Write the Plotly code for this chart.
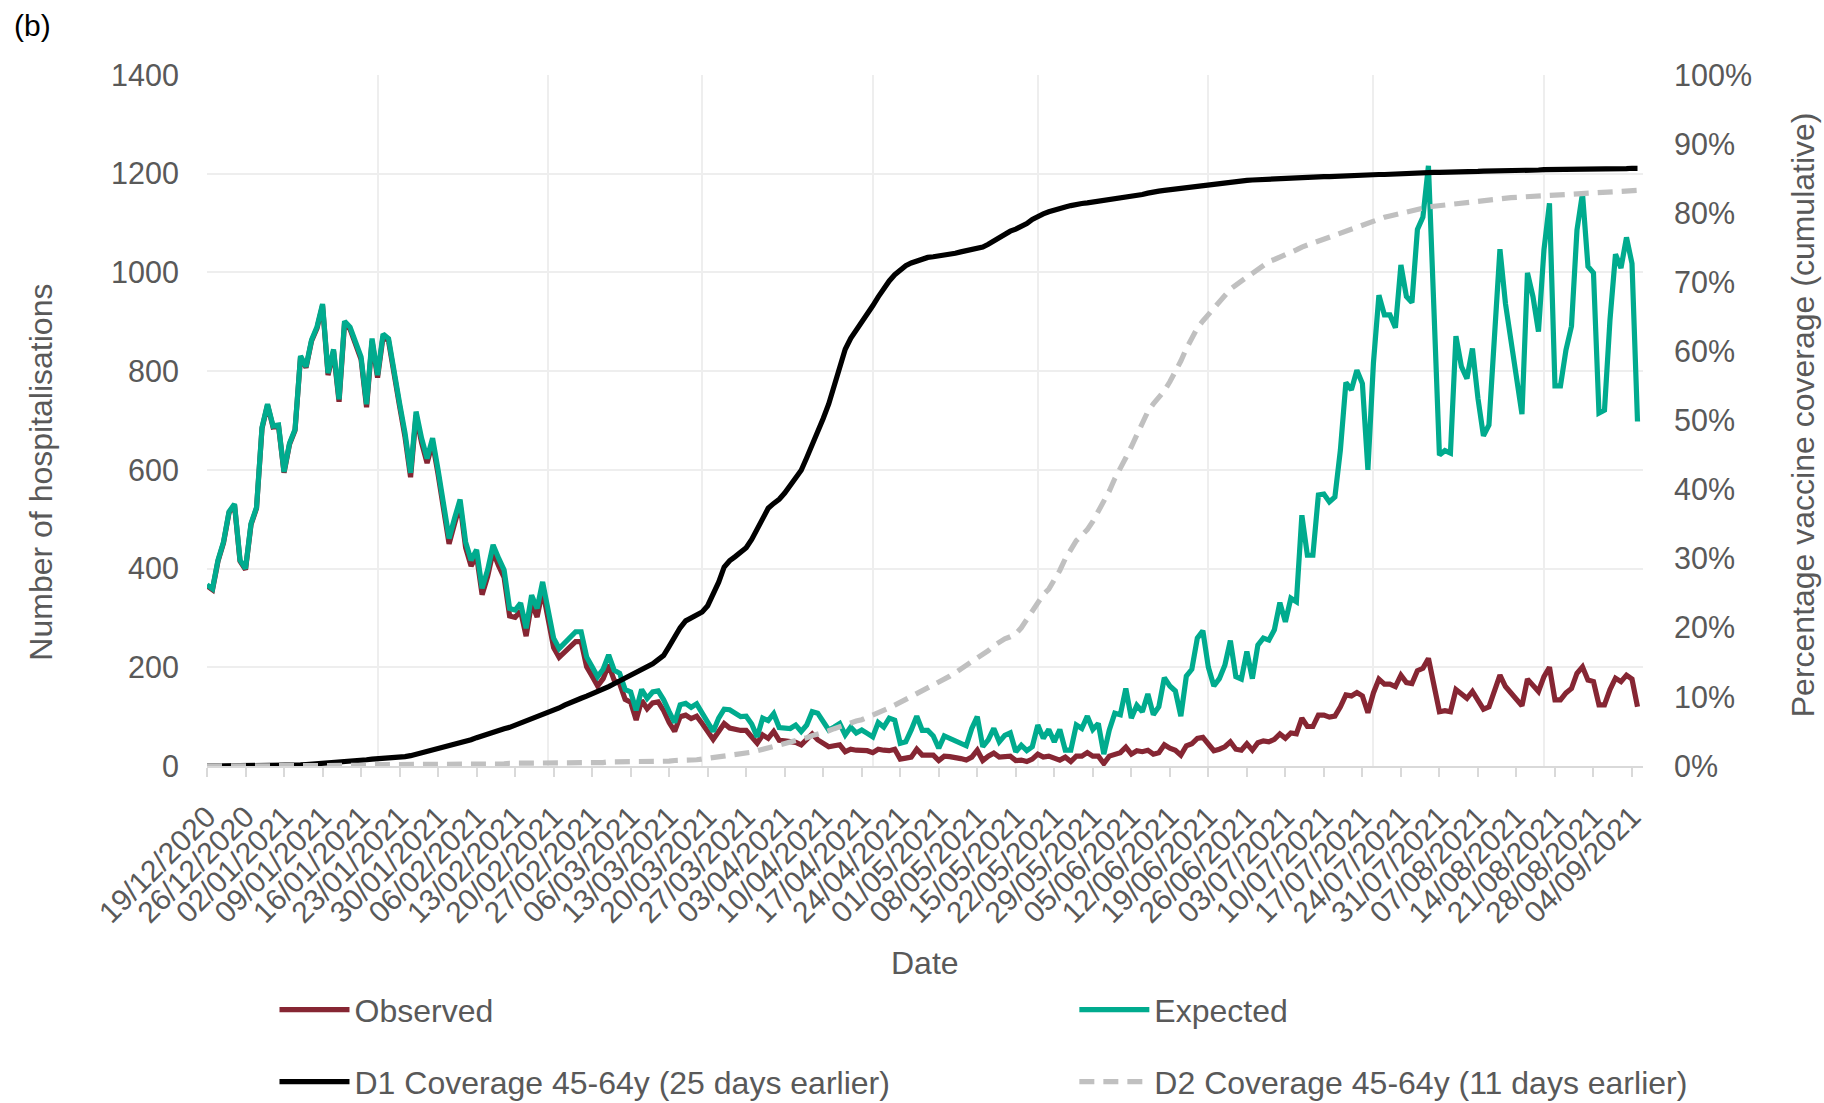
import pandas as pd
import plotly.graph_objects as go

# ---------------- data ----------------
start_date = "2020-12-19"
end_of_axis = "2021-09-06"

tick_labels = [
    "19/12/2020", "26/12/2020", "02/01/2021", "09/01/2021", "16/01/2021", "23/01/2021",
    "30/01/2021", "06/02/2021", "13/02/2021", "20/02/2021", "27/02/2021", "06/03/2021",
    "13/03/2021", "20/03/2021", "27/03/2021", "03/04/2021", "10/04/2021", "17/04/2021",
    "24/04/2021", "01/05/2021", "08/05/2021", "15/05/2021", "22/05/2021", "29/05/2021",
    "05/06/2021", "12/06/2021", "19/06/2021", "26/06/2021", "03/07/2021", "10/07/2021",
    "17/07/2021", "24/07/2021", "31/07/2021", "07/08/2021", "14/08/2021", "21/08/2021",
    "28/08/2021", "04/09/2021",
]

observed = [
    365, 357, 415, 452, 513, 529, 415, 398, 489, 522,
    684, 731, 687, 689, 594, 652, 680, 829, 807, 861,
    887, 933, 792, 840, 738, 897, 885, 851, 824, 727,
    861, 787, 870, 861, 790, 729, 666, 585, 710, 655,
    614, 655, 591, 522, 450, 491, 530, 443, 405, 426,
    347, 384, 434, 406, 382, 304, 301, 314, 263, 330,
    302, 356, 292, 240, 220, 230, 240, 252, 252, 201,
    182, 162, 177, 205, 174, 167, 135, 129, 93, 133,
    116, 128, 130, 112, 88, 70, 100, 103, 96, 101,
    86, 70, 54, 70, 86, 77, 74, 72, 72, 58,
    46, 63, 56, 70, 52, 51, 50, 48, 43, 56,
    65, 53, 45, 39, 41, 43, 29, 34, 32, 31,
    31, 27, 34, 32, 31, 34, 14, 16, 18, 34,
    22, 22, 22, 11, 20, 19, 18, 15, 12, 18,
    32, 11, 20, 26, 18, 20, 20, 11, 12, 9,
    14, 24, 18, 20, 16, 12, 18, 9, 20, 20,
    27, 20, 20, 5, 20, 24, 27, 38, 24, 31,
    29, 32, 24, 27, 43, 36, 32, 22, 41, 45,
    56, 58, 43, 31, 34, 39, 49, 34, 32, 45,
    32, 47, 51, 49, 54, 65, 56, 67, 65, 97,
    80, 80, 103, 103, 99, 101, 120, 144, 142, 149,
    142, 108, 148, 176, 166, 166, 161, 184, 169, 167,
    193, 198, 218, 165, 110, 112, 110, 155, 146, 137,
    151, 132, 115, 120, 151, 184, 161, 148, 137, 122,
    176, 164, 151, 181, 200, 134, 134, 148, 157, 188,
    201, 174, 171, 124, 124, 155, 178, 171, 184, 176,
    120,
]

expected = [
    367, 359, 417, 454, 515, 531, 417, 400, 491, 524,
    686, 733, 689, 691, 596, 654, 682, 831, 809, 863,
    890, 936, 796, 844, 743, 901, 889, 856, 829, 733,
    866, 792, 875, 866, 796, 735, 674, 594, 718, 664,
    623, 664, 600, 532, 461, 502, 540, 454, 417, 438,
    360, 397, 448, 421, 397, 319, 316, 330, 279, 346,
    319, 373, 310, 259, 238, 249, 259, 272, 272, 221,
    201, 181, 196, 225, 194, 188, 155, 150, 113, 155,
    137, 150, 152, 134, 110, 88, 124, 127, 119, 126,
    107, 88, 70, 97, 115, 114, 106, 100, 101, 85,
    59, 97, 92, 106, 78, 77, 76, 83, 70, 83,
    110, 107, 90, 73, 79, 86, 63, 79, 67, 73,
    66, 59, 88, 79, 97, 93, 46, 49, 73, 101,
    72, 72, 61, 36, 61, 56, 50, 46, 41, 76,
    100, 39, 53, 76, 49, 62, 67, 29, 42, 31,
    39, 83, 56, 74, 49, 74, 32, 32, 83, 76,
    101, 74, 86, 24, 73, 107, 104, 157, 97, 123,
    110, 146, 104, 120, 179, 162, 152, 101, 182, 196,
    259, 274, 200, 162, 177, 204, 254, 181, 176, 232,
    177, 245, 259, 255, 276, 331, 292, 340, 333, 508,
    427, 427, 549, 551, 535, 545, 640, 777, 762, 802,
    775, 600, 816, 954, 914, 914, 888, 1015, 951, 939,
    1087, 1112, 1216, 925, 630, 639, 634, 871, 809, 785,
    846, 745, 669, 691, 863, 1047, 937, 856, 789, 713,
    999, 951, 880, 1046, 1140, 770, 770, 843, 891, 1086,
    1160, 1012, 999, 715, 721, 904, 1037, 1009, 1071, 1018,
    698,
]

d1_coverage = [
    0, 0, 0, 0, 0, 0, 0, 0, 0, 0,
    0, 0, 0, 0, 0, 0, 0.1, 0.15, 0.2, 0.25,
    0.3, 0.35, 0.4, 0.45, 0.5, 0.55, 0.6, 0.7, 0.8, 0.9,
    1.0, 1.05, 1.1, 1.1, 1.15, 1.2, 1.35, 1.5, 1.7, 1.9,
    2.1, 2.3, 2.5, 2.7, 2.9, 3.1, 3.3, 3.5, 3.8, 4.1,
    4.4, 4.7, 5.0, 5.2, 5.4, 5.6, 5.9, 6.2, 6.5, 6.9,
    7.2, 7.5, 7.8, 8.1, 8.4, 8.8, 9.2, 9.5, 9.8, 10.1,
    10.4, 10.8, 11.2, 11.5, 11.9, 12.3, 12.7, 13.1, 13.5, 13.9,
    14.3, 14.8, 15.4, 16.0, 17.3, 18.8, 20.0, 21.0, 21.5, 22.0,
    22.3, 23.2, 24.8, 26.6, 28.8, 29.7, 30.3, 30.9, 31.6, 32.8,
    34.2, 35.8, 37.3, 38.0, 38.6, 39.5, 40.5, 41.6, 42.8, 44.6,
    46.4, 48.4, 50.3, 52.4, 55.0, 57.6, 60.3, 61.9, 63.0, 64.2,
    65.3, 66.6, 67.9, 69.1, 70.2, 71.1, 71.8, 72.4, 72.8, 73.1,
    73.3, 73.6, 73.7, 73.8, 73.9, 74.0, 74.2, 74.4, 74.6, 74.7,
    74.9, 75.1, 75.5, 76.0, 76.6, 77.0, 77.4, 77.7, 78.0, 78.5,
    79.1, 79.6, 79.9, 80.2, 80.5, 80.7, 80.9, 81.1, 81.3, 81.4,
    81.5, 81.6, 81.8, 81.9, 82.0, 82.1, 82.2, 82.3, 82.4, 82.5,
    82.7, 82.9, 83.1, 83.2, 83.3, 83.4, 83.5, 83.6, 83.7, 83.8,
    83.9, 84.0, 84.1, 84.2, 84.3, 84.5, 84.6, 84.65, 84.7, 84.75,
    84.8, 84.85, 84.9, 84.95, 85.0, 85.0, 85.05, 85.1, 85.1, 85.15,
    85.2, 85.2, 85.25, 85.3, 85.3, 85.35, 85.4, 85.4, 85.45, 85.5,
    85.5, 85.5, 85.55, 85.6, 85.6, 85.65, 85.7, 85.7, 85.75, 85.8,
    85.8, 85.8, 85.85, 85.9, 85.9, 85.9, 85.95, 86.0, 86.0, 86.0,
    86.05, 86.05, 86.1, 86.1, 86.1, 86.15, 86.15, 86.2, 86.2, 86.2,
    86.2, 86.25, 86.25, 86.3, 86.3, 86.3, 86.3, 86.3, 86.35, 86.35,
    86.35, 86.4, 86.4, 86.4, 86.4, 86.4, 86.45, 86.45, 86.45, 86.5,
    86.5,
]

d2_coverage = [
    0, 0, 0, 0, 0, 0, 0, 0, 0, 0,
    0, 0, 0, 0, 0, 0.1, 0.1, 0.1, 0.1, 0.1,
    0.1, 0.1, 0.1, 0.1, 0.1, 0.1, 0.1, 0.1, 0.1, 0.1,
    0.2, 0.2, 0.2, 0.2, 0.2, 0.2, 0.2, 0.2, 0.2, 0.2,
    0.2, 0.2, 0.2, 0.2, 0.2, 0.3, 0.3, 0.3, 0.3, 0.3,
    0.3, 0.3, 0.3, 0.3, 0.3, 0.4, 0.4, 0.4, 0.4, 0.4,
    0.4, 0.4, 0.4, 0.4, 0.4, 0.5, 0.5, 0.5, 0.5, 0.5,
    0.5, 0.5, 0.5, 0.6, 0.6, 0.6, 0.6, 0.6, 0.6, 0.6,
    0.7, 0.7, 0.7, 0.7, 0.7, 0.8, 0.8, 0.8, 0.8, 0.9,
    1.0, 1.1, 1.2, 1.3, 1.4, 1.5, 1.6, 1.8, 1.9, 2.0,
    2.2, 2.4, 2.6, 2.8, 3.0, 3.2, 3.4, 3.6, 3.8, 4.1,
    4.4, 4.6, 4.8, 5.1, 5.4, 5.7, 6.0, 6.3, 6.5, 6.7,
    7.0, 7.3, 7.6, 8.0, 8.4, 8.8, 9.2, 9.6, 10.0, 10.4,
    10.8, 11.2, 11.6, 12.1, 12.6, 13.0, 13.5, 14.0, 14.5, 15.0,
    15.5, 16.0, 16.7, 17.4, 18.0, 18.4, 18.7, 19.1, 20.0, 21.2,
    22.6, 23.8, 24.8, 25.6, 26.8, 28.3, 30.0, 31.5, 32.6, 33.4,
    34.2, 35.4, 36.8, 38.2, 39.8, 41.6, 43.3, 44.6, 46.2, 47.9,
    49.7, 51.3, 52.4, 53.3, 54.3, 55.6, 57.0, 58.6, 60.4, 62.0,
    63.4, 64.4, 65.3, 66.3, 67.3, 68.2, 69.0, 69.6, 70.2, 70.8,
    71.4, 72.0, 72.5, 73.0, 73.3, 73.6, 73.9, 74.3, 74.7, 75.1,
    75.4, 75.7, 76.0, 76.3, 76.6, 76.9, 77.2, 77.5, 77.8, 78.1,
    78.4, 78.7, 79.0, 79.2, 79.4, 79.6, 79.8, 80.0, 80.2, 80.4,
    80.6, 80.8, 80.9, 81.0, 81.1, 81.2, 81.3, 81.4, 81.5, 81.6,
    81.7, 81.8, 81.9, 82.0, 82.05, 82.1, 82.2, 82.25, 82.3, 82.35,
    82.4, 82.45, 82.5, 82.55, 82.6, 82.6, 82.65, 82.7, 82.75, 82.8,
    82.85, 82.9, 82.95, 83.0, 83.05, 83.1, 83.1, 83.15, 83.2, 83.25,
    83.3,
]

# ---------------- figure ----------------
FONT = "Liberation Sans, Arial, Helvetica, sans-serif"
GREY = "#595959"
GRID = "#EEEEEE"
LW = 5.2

dates = pd.date_range(start_date, periods=len(expected), freq="D")
tick_dates = pd.to_datetime(tick_labels, format="%d/%m/%Y")
x_range = [pd.Timestamp(start_date), pd.Timestamp(end_of_axis)]

fig = go.Figure()
fig.add_trace(go.Scatter(
    x=dates, y=observed, name="Observed", mode="lines", showlegend=True,
    line=dict(color="#862633", width=LW), legend="legend"))
fig.add_trace(go.Scatter(
    x=dates, y=expected, name="Expected", mode="lines", showlegend=True,
    line=dict(color="#00AB8E", width=LW), legend="legend2"))
fig.add_trace(go.Scatter(
    x=dates, y=d1_coverage, name="D1 Coverage 45-64y (25 days earlier)", mode="lines",
    xaxis="x2", yaxis="y2", showlegend=True,
    line=dict(color="#000000", width=LW), legend="legend3"))
fig.add_trace(go.Scatter(
    x=dates, y=d2_coverage, name="D2 Coverage 45-64y (11 days earlier)", mode="lines",
    xaxis="x2", yaxis="y2", showlegend=True,
    line=dict(color="#C0C0C0", width=LW, dash="15px,9px"), legend="legend4"))

legend_common = dict(orientation="h", xanchor="left", yanchor="middle",
                     font=dict(family=FONT, size=32, color=GREY),
                     bgcolor="rgba(0,0,0,0)", itemwidth=70)

fig.update_layout(
    width=1824, height=1103,
    margin=dict(l=207, r=181, t=75, b=337, autoexpand=False),
    paper_bgcolor="white", plot_bgcolor="white",
    font=dict(family=FONT, size=32, color=GREY),
    showlegend=True,
    xaxis=dict(
        type="date", range=x_range, tickmode="array",
        tickvals=tick_dates, ticktext=tick_labels, tickangle=-45,
        ticks="outside", ticklen=9, tickwidth=1.5, tickcolor="#D9D9D9",
        ticklabelstandoff=10,
        showline=True, linecolor="#D9D9D9", linewidth=2,
        showgrid=False, zeroline=False, automargin=False,
        tickfont=dict(family=FONT, size=30, color=GREY),
    ),
    xaxis2=dict(
        type="date", overlaying="x", anchor="y2", range=x_range,
        tickmode="linear", tick0=start_date, dtick="M1",
        showticklabels=False, ticks="", showline=False, zeroline=False,
        showgrid=True, gridcolor=GRID, gridwidth=1.5, automargin=False,
    ),
    yaxis=dict(
        range=[0, 1400], tickmode="linear", tick0=0, dtick=200,
        showgrid=True, gridcolor=GRID, gridwidth=1.5, zeroline=False,
        showline=False, ticks="outside", ticklen=21, tickcolor="rgba(0,0,0,0)",
        tickfont=dict(family=FONT, size=30.5, color=GREY), automargin=False,
    ),
    yaxis2=dict(
        range=[0, 100], tickmode="linear", tick0=0, dtick=10, ticksuffix="%",
        overlaying="y", side="right", anchor="x",
        showgrid=False, zeroline=False, showline=False,
        ticks="outside", ticklen=24, tickcolor="rgba(0,0,0,0)",
        tickfont=dict(family=FONT, size=30.5, color=GREY), automargin=False,
    ),
    legend=dict(legend_common, x=0.047, y=-0.353),
    legend2=dict(legend_common, x=0.604, y=-0.353),
    legend3=dict(legend_common, x=0.047, y=-0.457),
    legend4=dict(legend_common, x=0.604, y=-0.457),
    annotations=[
        dict(text="(b)", xref="paper", yref="paper", x=-0.1358, y=1.0715,
             xanchor="left", yanchor="middle", showarrow=False,
             font=dict(family=FONT, size=30, color="#000000")),
        dict(text="Number of hospitalisations", xref="paper", yref="paper",
             x=-0.1156, y=0.426, xanchor="center", yanchor="middle",
             textangle=-90, showarrow=False,
             font=dict(family=FONT, size=32, color=GREY)),
        dict(text="Percentage vaccine coverage (cumulative)", xref="paper", yref="paper",
             x=1.1114, y=0.509, xanchor="center", yanchor="middle",
             textangle=-90, showarrow=False,
             font=dict(family=FONT, size=32, color=GREY)),
        dict(text="Date", xref="paper", yref="paper", x=0.5, y=-0.285,
             xanchor="center", yanchor="middle", showarrow=False,
             font=dict(family=FONT, size=32, color=GREY)),
    ],
)

# remove the browser's default 8px page margin so the figure fills the window exactly
fig.write_html("out.html",
               config={"displayModeBar": False},
               post_script="document.body.style.margin='0px';"
                           "document.body.style.overflow='hidden';")
